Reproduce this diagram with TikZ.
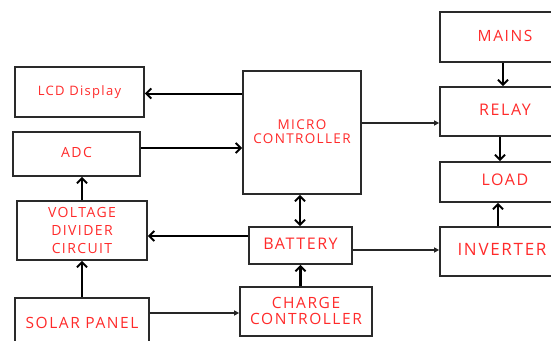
\documentclass[tikz,border=0pt]{standalone}
\usepackage{fontspec}
\setmainfont{Open Sans}[LetterSpace=10]
\usetikzlibrary{arrows.meta}
\definecolor{txt}{HTML}{FF2A2A}
\definecolor{edge}{HTML}{2A2A2A}
\tikzset{
  blk/.style={draw=edge, line width=1.7pt, text=txt, inner sep=0pt, align=center, font=\fontsize{13}{17}\selectfont},
  barb/.tip={Straight Barb[length=5pt,width=10pt,line width=2pt]},
  thk/.style={draw=black, line width=2.6pt, -barb},
  mid/.style={draw=black, line width=2pt, -barb},
  thn/.style={draw=black!85, line width=1.4pt, -{Triangle[length=5pt,width=5pt]}},
}
\begin{document}
\begin{tikzpicture}[x=1pt,y=-1pt]
\useasboundingbox (0,0) rectangle (551,340);
\clip (0,0) rectangle (551,340);
% boxes
\node[blk, minimum width=129pt, minimum height=50pt, font=\fontsize{13}{15}\selectfont] (lcd) at (79.5,92) {\raisebox{1pt}{LCD Display}};
\node[blk, minimum width=127pt, minimum height=44pt, font=\fontsize{14}{17}\selectfont] (adc) at (76.5,154) {\raisebox{4pt}{ADC}};
\node[blk, minimum width=118pt, minimum height=123pt, font=\fontsize{13.5}{18}\selectfont] (mc) at (302,132.5) {\raisebox{2pt}{\shortstack{MICRO\\[1pt]CONTROLLER}}};
\node[blk, minimum width=130pt, minimum height=50pt, font=\fontsize{15.5}{17}\selectfont] (mains) at (505,37) {\raisebox{3pt}{MAINS}};
\node[blk, minimum width=130pt, minimum height=49pt, font=\fontsize{16}{17}\selectfont] (relay) at (505,111.5) {\raisebox{4pt}{RELAY}};
\node[blk, minimum width=130pt, minimum height=40pt, font=\fontsize{16}{17}\selectfont] (load) at (505,182) {\raisebox{5pt}{LOAD}};
\node[blk, minimum width=130pt, minimum height=49pt, font=\fontsize{17}{17}\selectfont] (inv) at (505,251.5) {\raisebox{4pt}{\kern-6pt INVERTER}};
\node[blk, minimum width=103pt, minimum height=37pt, font=\fontsize{16}{17}\selectfont] (bat) at (300.5,245.5) {\raisebox{3.5pt}{BATTERY}};
\node[blk, minimum width=130pt, minimum height=59pt, font=\fontsize{14}{18}\selectfont] (vdc) at (82,230.5) {VOLTAGE\\DIVIDER\\CIRCUIT};
\node[blk, minimum width=134pt, minimum height=60pt, font=\fontsize{15.5}{17}\selectfont] (sp) at (82,328) {\raisebox{10pt}{SOLAR PANEL}};
\node[blk, minimum width=132pt, minimum height=49pt, font=\fontsize{15.5}{19}\selectfont] (cc) at (306,311.5) {\raisebox{1pt}{\shortstack{CHARGE\\[2pt]CONTROLLER}}};
% connectors
\draw[mid] ([yshift=-1.5pt]mc.west |- lcd.east) -- ([yshift=-1.5pt]lcd.east);
\draw[mid] ([yshift=6pt]adc.east) -- ([yshift=6pt]adc.east -| mc.west);
\draw[thn] ([yshift=9.5pt]mc.east) -- ([yshift=9.5pt]mc.east -| relay.west);
\draw[thk] ([xshift=-2pt]mains.south) -- ([xshift=-2pt]relay.north);
\draw[thk] ([xshift=-5pt]relay.south) -- ([xshift=-5pt]load.north);
\draw[thk] ([xshift=-7pt]inv.north) -- ([xshift=-7pt]load.south);
\draw[thk, barb-barb] ([xshift=-2pt]mc.south) -- ([xshift=-2pt]mc.south |- bat.north);
\draw[thk] (cc.north -| bat.south) -- (bat.south);
\draw[mid] ([yshift=9.5pt]bat.west) -- ([yshift=9.5pt]bat.west -| vdc.east);
\draw[thn] ([yshift=-4.5pt]bat.east) -- ([yshift=-4.5pt]bat.east -| inv.west);
\draw[thk] (sp.north) -- (vdc.south);
\draw[thk] (vdc.north) -- (vdc.north |- adc.south);
\draw[thn] ([yshift=15pt]sp.east) -- ([yshift=15pt]sp.east -| cc.west);
\end{tikzpicture}
\end{document}
